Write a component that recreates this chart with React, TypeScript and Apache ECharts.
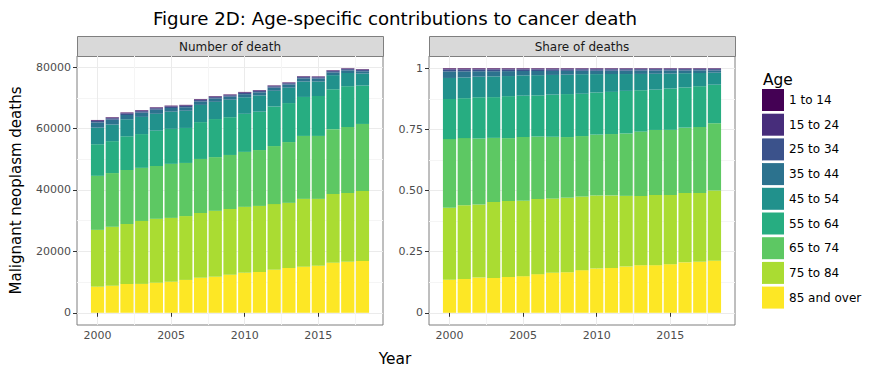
import React, { useEffect, useRef } from "react";
import * as echarts from "echarts";

const years = [2000, 2001, 2002, 2003, 2004, 2005, 2006, 2007, 2008, 2009, 2010, 2011, 2012, 2013, 2014, 2015, 2016, 2017, 2018];

const ageGroups = ["1 to 14", "15 to 24", "25 to 34", "35 to 44", "45 to 54", "55 to 64", "65 to 74", "75 to 84", "85 and over"];
const ageColors = ["#440154", "#472D7B", "#3B528B", "#2C728E", "#21918C", "#27AD81", "#5DC863", "#AADC32", "#FDE725"];

const deaths1to14 = [150, 150, 150, 150, 140, 140, 140, 140, 140, 130, 130, 130, 120, 120, 120, 120, 120, 120, 120];
const deaths15to24 = [200, 200, 200, 200, 200, 190, 190, 190, 190, 180, 180, 180, 180, 180, 180, 180, 180, 180, 180];
const deaths25to34 = [450, 450, 450, 450, 450, 440, 440, 430, 430, 420, 420, 410, 410, 400, 400, 400, 400, 400, 400];
const deaths35to44 = [1700, 1600, 1450, 1400, 1350, 1200, 1150, 1150, 1100, 1000, 1000, 1000, 1050, 1050, 1050, 1000, 900, 850, 750];
const deaths45to54 = [5400, 5400, 5500, 5600, 5500, 5600, 5600, 5600, 5600, 5700, 5400, 5300, 5100, 5000, 5000, 4700, 4600, 4300, 3900];
const deaths55to64 = [10300, 10400, 11000, 11000, 11500, 11400, 11400, 12000, 12400, 12300, 12400, 12500, 12900, 12700, 12700, 13000, 13000, 13300, 12500];
const deaths65to74 = [17600, 17500, 17600, 17300, 17200, 17600, 17300, 17600, 17500, 17600, 17900, 18200, 18900, 19800, 20500, 20500, 21100, 21500, 21800];
const deaths75to84 = [18500, 19200, 19500, 20500, 20800, 20800, 20800, 21100, 21500, 21400, 21500, 21500, 21400, 21200, 22100, 21800, 22400, 22400, 22800];
const deaths85plus = [8500, 8800, 9400, 9400, 9800, 10100, 10700, 11400, 11700, 12400, 13000, 13300, 14000, 14600, 15000, 15300, 16300, 16600, 16900];

const countTicksMajor = [0, 20000, 40000, 60000, 80000];
const countTicksMinor = [10000, 30000, 50000, 70000];
const shareTicksMajor = [0, 0.25, 0.5, 0.75, 1];
const shareTicksMinor = [0.125, 0.375, 0.625, 0.875];
const yearTicksMajor = [2000, 2005, 2010, 2015];
const yearTicksMinor = [2002.5, 2007.5, 2012.5, 2017.5];

const panelTitles = ["Number of death", "Share of deaths"];

const FONT = "DejaVu Sans";

export default function App() {
  const ref = useRef<HTMLDivElement>(null);

  useEffect(() => {
    if (!ref.current) return;
    const chart = echarts.init(ref.current, undefined, { renderer: "svg" });

    const byGroup = [deaths1to14, deaths15to24, deaths25to34, deaths35to44, deaths45to54, deaths55to64, deaths65to74, deaths75to84, deaths85plus];
    const totals = years.map((_, i) => byGroup.reduce((s, arr) => s + arr[i], 0));
    const maxTotal = Math.max(...totals);

    const xMin = 1999.55 - 0.945;
    const xMax = 2018.45 + 0.945;
    const cMin = -maxTotal * 0.05;
    const cMax = maxTotal * 1.05;

    const grids = [
      { left: 77, top: 56, width: 306, height: 269 },
      { left: 429, top: 56, width: 306, height: 269 },
    ];

    const xAxisBase = (gridIndex: number, major: boolean) => ({
      type: "value",
      gridIndex,
      min: xMin,
      max: xMax,
      position: "bottom",
      axisLine: { show: false },
      axisTick: {
        show: major,
        customValues: major ? yearTicksMajor : yearTicksMinor,
        length: 4,
        lineStyle: { color: "#333333", width: 1 },
      },
      axisLabel: {
        show: major,
        customValues: yearTicksMajor,
        color: "#4d4d4d",
        fontFamily: FONT,
        fontSize: 11,
        margin: 5,
        formatter: (v: number) => String(v),
      },
      splitLine: { show: true, lineStyle: { color: major ? "#ebebeb" : "#f5f5f5", width: 1 } },
    });

    const yAxisBase = (gridIndex: number, major: boolean, share: boolean) => ({
      type: "value",
      gridIndex,
      min: share ? -0.05 : cMin,
      max: share ? 1.05 : cMax,
      position: "left",
      axisLine: { show: false },
      axisTick: {
        show: major,
        customValues: share ? (major ? shareTicksMajor : shareTicksMinor) : major ? countTicksMajor : countTicksMinor,
        length: 4,
        lineStyle: { color: "#333333", width: 1 },
      },
      axisLabel: {
        show: major,
        customValues: share ? shareTicksMajor : countTicksMajor,
        color: "#4d4d4d",
        fontFamily: FONT,
        fontSize: 11,
        margin: 6,
        formatter: (v: number) => {
          if (!share) return String(v);
          if (v === 0) return "0";
          if (v === 1) return "1";
          return v.toFixed(2);
        },
      },
      splitLine: { show: true, lineStyle: { color: major ? "#ebebeb" : "#f5f5f5", width: 1 } },
      name: major && gridIndex === 0 && !share ? "Malignant neoplasm deaths" : "",
      nameLocation: "middle",
      nameGap: 54,
      nameRotate: 90,
      nameTextStyle: { fontFamily: FONT, fontSize: 15, color: "#000" },
    });

    // axes order: 0 minor L, 1 major L, 2 minor R, 3 major R
    const xAxis = [xAxisBase(0, false), xAxisBase(0, true), xAxisBase(1, false), xAxisBase(1, true)];
    const yAxis = [yAxisBase(0, false, false), yAxisBase(0, true, false), yAxisBase(1, false, true), yAxisBase(1, true, true)];

    const series: any[] = [];
    const order = [...ageGroups.keys()].reverse();
    for (const g of order) {
      const vals = byGroup[g];
      // value first so that ECharts stacks the value dimension (y), not the year
      series.push({
        type: "bar",
        name: ageGroups[g],
        xAxisIndex: 1,
        yAxisIndex: 1,
        stack: "count",
        barWidth: 13.2,
        itemStyle: { color: ageColors[g] },
        encode: { x: 1, y: 0 },
        data: years.map((y, i) => [vals[i], y]),
      });
      series.push({
        type: "bar",
        name: ageGroups[g],
        xAxisIndex: 3,
        yAxisIndex: 3,
        stack: "share",
        barWidth: 13.2,
        itemStyle: { color: ageColors[g] },
        encode: { x: 1, y: 0 },
        data: years.map((y, i) => [vals[i] / totals[i], y]),
      });
    }

    const graphics: any[] = [
      {
        type: "text",
        x: 395,
        y: 18,
        style: { text: "Figure 2D: Age-specific contributions to cancer death", align: "center", verticalAlign: "middle", fontFamily: FONT, fontSize: 18.2, fill: "#000" },
      },
      {
        type: "text",
        x: 395,
        y: 359,
        style: { text: "Year", align: "center", verticalAlign: "middle", fontFamily: FONT, fontSize: 15.4, fill: "#000" },
      },
      {
        type: "text",
        x: 763,
        y: 80,
        style: { text: "Age", align: "left", verticalAlign: "middle", fontFamily: FONT, fontSize: 15.4, fill: "#000" },
      },
    ];
    grids.forEach((g, i) => {
      graphics.push({
        type: "rect",
        shape: { x: g.left + 0.5, y: 36.5, width: g.width, height: 20 },
        style: { fill: "#d9d9d9", stroke: "#7f7f7f", lineWidth: 1 },
      });
      graphics.push({
        type: "text",
        x: g.left + g.width / 2,
        y: 46.5,
        style: { text: panelTitles[i], align: "center", verticalAlign: "middle", fontFamily: FONT, fontSize: 12, fill: "#1a1a1a" },
      });
    });

    chart.setOption({
      animation: false,
      backgroundColor: "#ffffff",
      textStyle: { fontFamily: FONT },
      grid: grids.map((g) => ({ ...g, show: true, borderColor: "#7f7f7f", borderWidth: 1, backgroundColor: "#ffffff" })),
      xAxis,
      yAxis,
      series,
      legend: {
        data: ageGroups,
        orient: "vertical",
        left: 762,
        top: 89,
        padding: 0,
        itemWidth: 22,
        itemHeight: 22,
        itemGap: 2.7,
        icon: "rect",
        selectedMode: false,
        textStyle: { fontFamily: FONT, fontSize: 12, color: "#000" },
      },
      graphic: graphics,
    });

    return () => chart.dispose();
  }, []);

  return <div ref={ref} style={{ position: "fixed", left: 0, top: 0, width: 889, height: 376 }} />;
}
